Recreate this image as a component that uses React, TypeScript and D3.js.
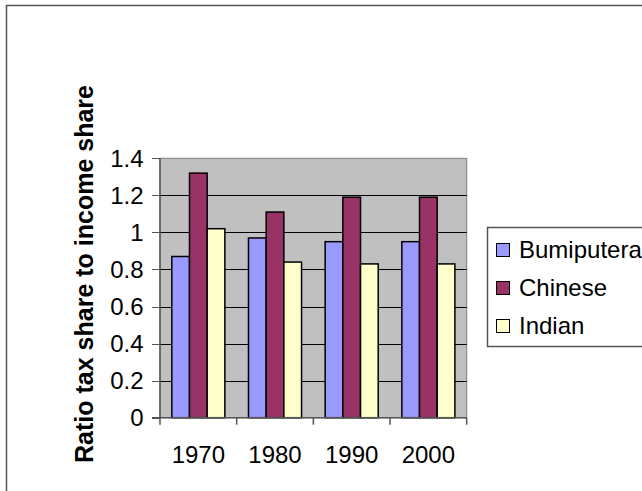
import React from "react";
import * as d3 from "d3";

// Ratio of tax share to income share by ethnic group
const years = ["1970", "1980", "1990", "2000"];
const seriesNames = ["Bumiputera", "Chinese", "Indian"];
const bumiputera = [0.87, 0.97, 0.95, 0.95];
const chinese = [1.32, 1.11, 1.19, 1.19];
const indian = [1.02, 0.84, 0.83, 0.83];
const yTicks = [0, 0.2, 0.4, 0.6, 0.8, 1, 1.2, 1.4];
const seriesColors = ["#9999FF", "#993366", "#FFFFCC"];

const W = 642;
const H = 491;
const plot = { left: 160, right: 466.7, top: 158.3, bottom: 417.7 };
const FONT = "'Liberation Sans', Arial, sans-serif";

export default function App() {
  const values = [bumiputera, chinese, indian];

  const x = d3.scaleBand<string>().domain(years).range([plot.left, plot.right]);
  const bw = x.bandwidth();
  const inner = d3
    .scaleBand<string>()
    .domain(seriesNames)
    .range([bw * 0.154, bw * 0.846]);
  const y = d3.scaleLinear().domain([0, 1.4]).range([plot.bottom, plot.top]);

  const boundaries = [...years.map((yr) => x(yr)!), plot.right];

  return (
    <svg
      width={W}
      height={H}
      style={{ position: "absolute", left: 0, top: 0, background: "#fff" }}
      fontFamily={FONT}
    >
      {/* chart frame */}
      <path d={`M6.5,${H + 2} V5.5 H${W + 2}`} fill="none" stroke="#555" strokeWidth={1.5} />

      {/* plot area */}
      <rect
        x={plot.left}
        y={plot.top}
        width={plot.right - plot.left}
        height={plot.bottom - plot.top}
        fill="#C0C0C0"
        stroke="#808080"
        strokeWidth={1}
      />
      {yTicks
        .filter((t) => t > 0 && t < 1.4)
        .map((t) => (
          <line
            key={"g" + t}
            x1={plot.left}
            x2={plot.right}
            y1={Math.round(y(t)) + 0.5}
            y2={Math.round(y(t)) + 0.5}
            stroke="#000"
            strokeWidth={1}
          />
        ))}

      {/* bars */}
      {years.map((yr, i) => (
        <g key={yr} transform={`translate(${x(yr)},0)`}>
          {seriesNames.map((s, j) => (
            <rect
              key={s}
              x={inner(s)!}
              y={y(values[j][i])}
              width={inner.bandwidth()}
              height={y(0) - y(values[j][i])}
              fill={seriesColors[j]}
              stroke="#000"
              strokeWidth={1.5}
            />
          ))}
        </g>
      ))}

      {/* y axis */}
      <line x1={plot.left} x2={plot.left} y1={plot.top} y2={plot.bottom} stroke="#555" strokeWidth={1.5} />
      {yTicks.map((t) => (
        <g key={"y" + t}>
          <line
            x1={plot.left - 8}
            x2={plot.left}
            y1={Math.round(y(t)) + 0.5}
            y2={Math.round(y(t)) + 0.5}
            stroke="#555"
            strokeWidth={1}
          />
          <text
            x={143.5}
            y={y(t)}
            dy="0.36em"
            textAnchor="end"
            fontSize={24}
            fill="#000"
          >
            {String(t)}
          </text>
        </g>
      ))}

      {/* x axis */}
      <line x1={plot.left - 8} x2={plot.right} y1={plot.bottom} y2={plot.bottom} stroke="#555" strokeWidth={1.5} />
      {boundaries.map((bx, i) => (
        <line key={"xt" + i} x1={bx} x2={bx} y1={plot.bottom} y2={plot.bottom + 7} stroke="#555" strokeWidth={1.5} />
      ))}
      {years.map((yr) => (
        <text key={"xl" + yr} x={x(yr)! + bw / 2} y={463} textAnchor="middle" fontSize={24} fill="#000">
          {yr}
        </text>
      ))}

      {/* y axis title */}
      <text
        transform={`translate(93,${(86 + 462) / 2}) rotate(-90)`}
        textAnchor="middle"
        fontSize={25}
        fontWeight="bold"
        fill="#000"
      >
        Ratio tax share to income share
      </text>

      {/* legend */}
      <path d={`M${W + 2},227.5 H487.5 V346.5 H${W + 2}`} fill="#fff" stroke="#555" strokeWidth={1.5} />
      {seriesNames.map((s, j) => (
        <g key={"lg" + s} transform={`translate(0,${j * 38})`}>
          <rect x={496.5} y={243.5} width={13} height={13} fill={seriesColors[j]} stroke="#000" strokeWidth={1} />
          <text x={519} y={257.5} fontSize={24} fill="#000">
            {s}
          </text>
        </g>
      ))}
    </svg>
  );
}
